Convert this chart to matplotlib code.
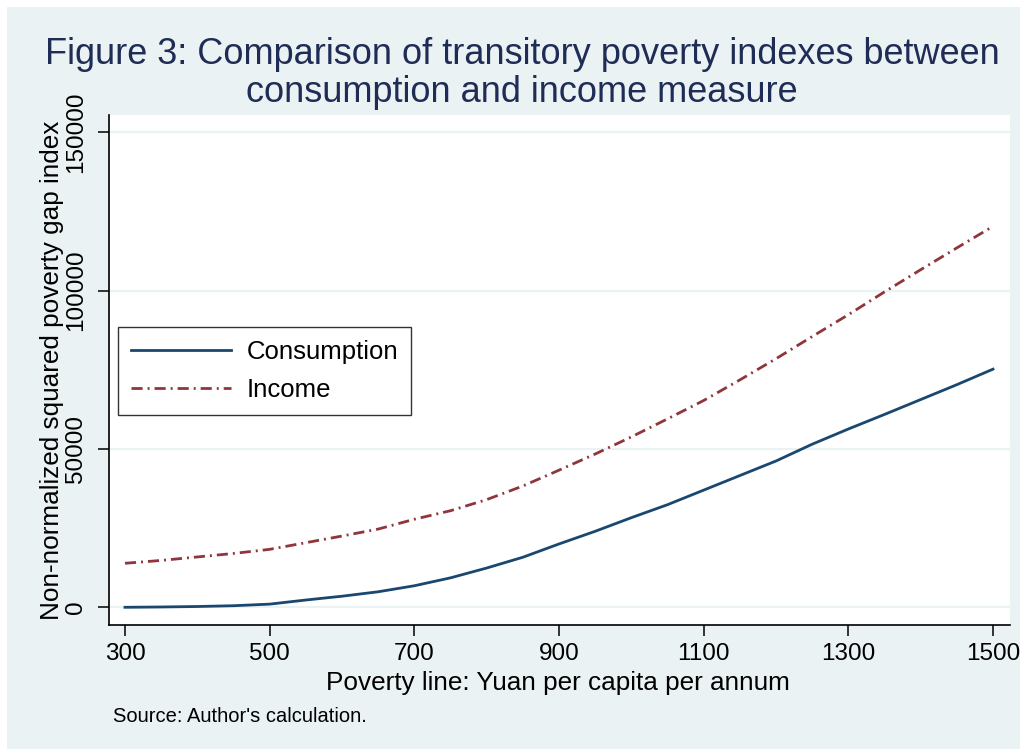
import numpy as np
import matplotlib
matplotlib.use("Agg")
from matplotlib import pyplot as plt
from matplotlib.patches import Rectangle

plt.rcParams['font.family'] = ['Liberation Sans', 'DejaVu Sans']
plt.rcParams['lines.scale_dashes'] = False

# Poverty line (yuan per capita per annum) and squared poverty gap index
poverty_line = [300, 350, 400, 450, 500, 550, 600, 650, 700, 750, 800, 850, 900,
                950, 1000, 1050, 1100, 1150, 1200, 1250, 1300, 1350, 1400, 1450, 1500]
consumption = [0, 100, 250, 500, 1000, 2300, 3500, 4900, 6800, 9300, 12400, 15800, 20000,
               24000, 28300, 32400, 37000, 41600, 46200, 51500, 56300, 60900, 65600, 70300, 75200]
income = [13900, 14800, 15900, 17000, 18300, 20400, 22500, 24700, 27800, 30500, 34000, 38300, 43300,
          48400, 53800, 59500, 65300, 71800, 78500, 85500, 92400, 99600, 106600, 113500, 120300]

x_ticks = [300, 500, 700, 900, 1100, 1300, 1500]
y_ticks = [0, 50000, 100000, 150000]

title_lines = ['Figure 3: Comparison of transitory poverty indexes between',
               'consumption and income measure']

BG = '#eaf2f3'
NAVY = '#1a476f'
MAROON = '#90353b'

W, H = 1021, 749
fig = plt.figure(figsize=(W / 100, H / 100), dpi=100)
fig.patch.set_facecolor('white')
# light outer panel, offset a few pixels from the top-left corner
fig.patches.append(Rectangle((7 / W, 0), (W - 8) / W, (H - 7) / H,
                             transform=fig.transFigure, facecolor=BG,
                             edgecolor='none', zorder=-10))

ax = fig.add_axes([109 / W, (H - 625) / H, 901 / W, 510 / H])
ax.set_facecolor('white')

for y in y_ticks:
    ax.axhline(y, color=BG, lw=1.6, zorder=1)

ax.plot(poverty_line, consumption, color=NAVY, lw=2.0, label='Consumption', zorder=3)
ax.plot(poverty_line, income, color=MAROON, lw=2.0, dashes=(8, 3.6, 1.4, 3.6),
        label='Income', zorder=3)

ax.set_xlim(277.9, 1523.5)
ax.set_ylim(-5590, 155460)
ax.set_xticks(x_ticks)
ax.set_yticks(y_ticks)
ax.set_xticklabels([str(v) for v in x_ticks])
ax.set_yticklabels([str(v) for v in y_ticks], rotation=90, va='center')

for side in ['top', 'right']:
    ax.spines[side].set_visible(False)
for side in ['left', 'bottom']:
    ax.spines[side].set_linewidth(1.2)
    ax.spines[side].set_color('black')
ax.tick_params(axis='both', direction='out', length=8, width=1.1, colors='black',
               labelsize=17.5)
ax.tick_params(axis='x', pad=5)
ax.tick_params(axis='y', pad=8)

leg = ax.legend(loc='upper left', bbox_to_anchor=((118 - 109) / 901, (625 - 327) / 510),
                frameon=True, fancybox=False, fontsize=18.5, handlelength=3.9,
                handletextpad=0.6, borderpad=0.5, labelspacing=0.55, borderaxespad=0)
leg.get_frame().set_edgecolor('black')
leg.get_frame().set_linewidth(1.0)
leg.get_frame().set_facecolor('white')

# two-line title, one text per line
for y_px, line in zip([55, 93], title_lines):
    fig.text(522 / W, 1 - y_px / H, line, ha='center', va='center',
             fontsize=26, color='#1f2c55')
fig.text(558 / W, 1 - 683 / H, 'Poverty line: Yuan per capita per annum',
         ha='center', va='center', fontsize=18.8)
fig.text(52 / W, 1 - 370 / H, 'Non-normalized squared poverty gap index',
         ha='center', va='center', rotation=90, fontsize=18.8)
fig.text(113 / W, 1 - 717 / H, "Source: Author's calculation.",
         ha='left', va='center', fontsize=14.5)

fig.savefig('out.png', dpi=100, facecolor=fig.get_facecolor())
